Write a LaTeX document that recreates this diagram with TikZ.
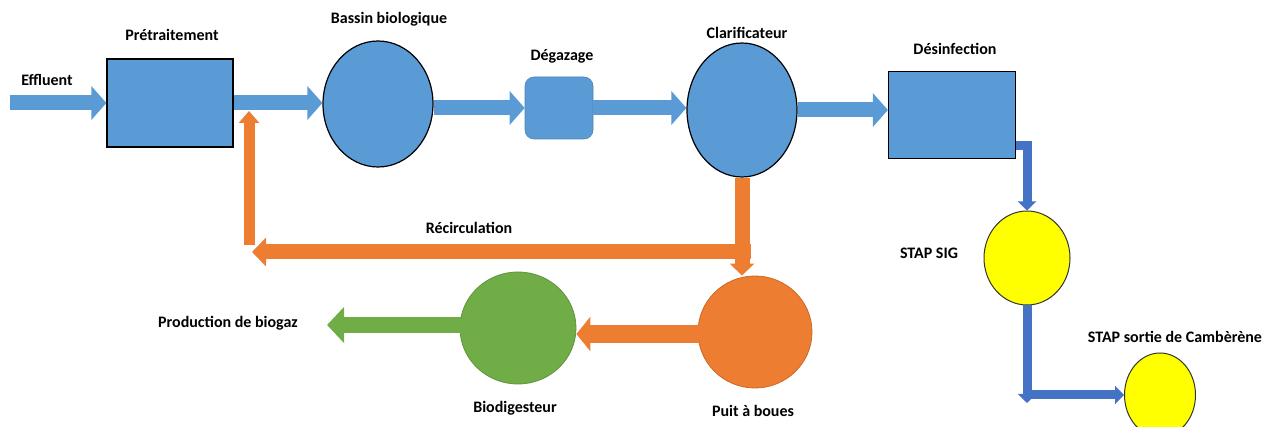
\documentclass[tikz,border=0pt]{standalone}
\usepackage{fontspec}
\setmainfont{Carlito}
\usetikzlibrary{shapes.geometric,arrows.meta}
\definecolor{cblue}{HTML}{5B9BD5}
\definecolor{cdblue}{HTML}{4472C4}
\definecolor{corange}{HTML}{ED7D31}
\definecolor{cgreen}{HTML}{70AD47}
\definecolor{cyellow}{HTML}{FFFF00}
\begin{document}
\begin{tikzpicture}[x=1pt,y=-1pt,
  lbl/.style={font=\fontsize{16}{19}\selectfont\bfseries, inner sep=0pt},
  box/.style={rectangle, draw=black, line width=1.2pt, fill=cblue, inner sep=0pt},
  ell/.style={ellipse, draw=black, line width=1.2pt, inner sep=0pt},
  barrow/.style={draw=cblue, line width=15pt, -{Triangle[length=15pt,width=33pt]}},
  darrow/.style={draw=cdblue, line width=9pt, line join=miter, -{Triangle[length=9pt,width=18pt]}},
  oarrow/.style={draw=corange, line width=15pt, -{Triangle[length=12pt,width=24pt]}},
  garrow/.style={draw=cgreen, line width=16pt, -{Triangle[length=17pt,width=35pt]}}
]
\useasboundingbox (0,0) rectangle (1264,427);

% nodes
\node[box, minimum width=126pt, minimum height=88pt] (pre) at (170,103) {};
\node[ell, fill=cblue, minimum width=110pt, minimum height=126pt] (bas) at (378,104) {};
\node[rectangle, rounded corners=9pt, fill=cblue, draw=cblue!85!black, line width=0.6pt, minimum width=68pt, minimum height=62pt, inner sep=0pt] (deg) at (559,108) {};
\node[ell, fill=cblue, minimum width=110pt, minimum height=134pt] (cla) at (742,110) {};
\node[box, minimum width=127pt, minimum height=87pt] (des) at (952,115) {};
\node[ell, fill=cyellow, draw=black!80, line width=1pt, minimum width=86pt, minimum height=94pt] (sig) at (1027,258) {};
\node[ell, fill=cyellow, draw=black!80, line width=1pt, minimum width=71pt, minimum height=84pt] (cam) at (1160,395) {};
\node[ell, fill=corange, draw=corange!85!black, line width=0.8pt, minimum width=114pt, minimum height=112pt] (pui) at (755,332) {};
\node[ell, fill=cgreen, draw=cgreen!85!black, line width=0.8pt, minimum width=116pt, minimum height=112pt] (bio) at (518,328) {};

% labels
\node[lbl] (leff) at (47,80) {Effluent};
\node[lbl] (lpre) at (172,35) {Prétraitement};
\node[lbl] (lbas) at (389,19) {Bassin biologique};
\node[lbl] (ldeg) at (562,56) {Dégazage};
\node[lbl] (lcla) at (747,33) {Clarificateur};
\node[lbl] (ldes) at (955,49) {Désinfection};
\node[lbl] (lsig) at (929,253) {STAP SIG};
\node[lbl] (lcam) at (1175,337) {STAP sortie de Cambèrène};
\node[lbl] (lrec) at (469,228) {Récirculation};
\node[lbl] (lpui) at (753,411) {Puit à boues};
\node[lbl] (lbio) at (515,408) {Biodigesteur};
\node[lbl] (lgaz) at (228,323) {Production de biogaz};

% coordinates
\coordinate (ein) at (10,103);
\coordinate (d1) at (1016,146);
\coordinate (dc) at (1027,403);
\coordinate (dc2) at (1024,395);
\coordinate (r1) at (751,252);
\coordinate (r2) at (252,252);
\coordinate (r3) at (249,245);
\coordinate (r4) at (249,111);
\coordinate (gz) at (327,325);
\coordinate (po) at (699,334);
\coordinate (go) at (461,325);

% blue flow
\draw[barrow] (ein) -- (pre.west);
\draw[barrow] (pre.east) -- (pre.east -| bas.west);
\draw[barrow] (bas.east |- deg.west) -- (deg.west);
\draw[barrow] (deg.east) -- (deg.east -| cla.west);
\draw[barrow] (cla.east) -- (cla.east -| des.west);

% dark blue
\draw[darrow] (d1) -| (sig.north);
\draw[darrow] (sig.south) -- (dc);
\draw[darrow] (dc2) -- (cam.west);

% orange
\draw[oarrow, -{Triangle[length=14pt,width=28pt]}] (r1) -- (r2);
\draw[oarrow] (cla.south) -- (cla.south |- pui.north);
\draw[oarrow, line width=11pt, -{Triangle[length=12pt,width=20pt]}] (r3) -- (r4);
\draw[oarrow, line width=18pt, -{Triangle[length=14pt,width=34pt]}] (po) -- (po -| bio.east);

% green
\draw[garrow] (go) -- (gz);
\end{tikzpicture}
\end{document}
